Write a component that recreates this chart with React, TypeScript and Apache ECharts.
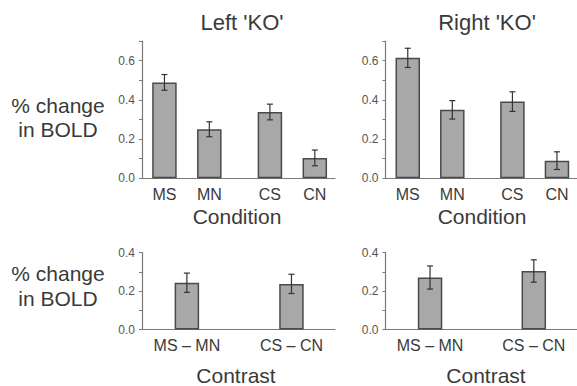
import React, { useEffect, useRef } from "react";
import * as echarts from "echarts";

const conditionCats = ["MS", "MN", "CS", "CN"];
const conditionPos = [0.5, 1.5, 2.85, 3.85];
const leftKO = [0.489, 0.25, 0.338, 0.104];
const leftKOErr = [0.04, 0.038, 0.04, 0.04];
const rightKO = [0.614, 0.349, 0.391, 0.09];
const rightKOErr = [0.049, 0.047, 0.05, 0.045];

const contrastCats = ["MS \u2013 MN", "CS \u2013 CN"];
const contrastPos = [1.0, 3.33];
const leftContrast = [0.243, 0.237];
const leftContrastErr = [0.05, 0.05];
const rightContrast = [0.27, 0.304];
const rightContrastErr = [0.06, 0.058];

const topYTicks = [0, 0.2, 0.4, 0.6];
const bottomYTicks = [0, 0.2, 0.4];

const FONT = "Liberation Sans, Arial, sans-serif";
const TEXT = "#3a3a3a";
const AXIS = "#7a7a7a";

export default function App() {
  const ref = useRef<HTMLDivElement>(null);
  useEffect(() => {
    if (!ref.current) return;
    const chart = echarts.init(ref.current, null, { renderer: "svg" });

    const grids = [
      { left: 142, top: 41, width: 193, height: 137.3 },
      { left: 385.5, top: 41, width: 192, height: 137.3 },
      { left: 142, top: 252.5, width: 193, height: 77 },
      { left: 385.5, top: 252.5, width: 192, height: 77 },
    ];

    const panels = [
      { pos: conditionPos, cats: conditionCats, vals: leftKO, errs: leftKOErr, max: 0.7, ticks: topYTicks },
      { pos: conditionPos, cats: conditionCats, vals: rightKO, errs: rightKOErr, max: 0.7, ticks: topYTicks },
      { pos: contrastPos, cats: contrastCats, vals: leftContrast, errs: leftContrastErr, max: 0.4, ticks: bottomYTicks },
      { pos: contrastPos, cats: contrastCats, vals: rightContrast, errs: rightContrastErr, max: 0.4, ticks: bottomYTicks },
    ];

    const xAxis = panels.map((p, i) => ({
      type: "value",
      gridIndex: i,
      min: 0,
      max: 4.3,
      splitLine: { show: false },
      axisLine: { show: true, lineStyle: { color: AXIS, width: 1.2 } },
      axisTick: { show: false },
      axisLabel: {
        customValues: p.pos,
        margin: 8,
        fontSize: 16,
        fontFamily: FONT,
        color: TEXT,
        formatter: (v: number) => {
          const idx = p.pos.findIndex((q) => Math.abs(q - v) < 1e-6);
          return idx >= 0 ? p.cats[idx] : "";
        },
      },
    }));

    const yAxis = panels.map((p, i) => {
      const minor: number[] = [];
      for (let k = 0; k <= Math.round(p.max * 10); k++) minor.push(k / 10);
      return {
        type: "value",
        gridIndex: i,
        min: 0,
        max: p.max,
        splitLine: { show: false },
        axisLine: { show: true, lineStyle: { color: AXIS, width: 1.2 } },
        axisTick: {
          show: true,
          customValues: minor,
          length: 3,
          lineStyle: { color: AXIS, width: 1 },
        },
        axisLabel: {
          customValues: p.ticks,
          margin: 7,
          fontSize: 12,
          fontFamily: FONT,
          color: "#555",
          formatter: (v: number) => v.toFixed(1),
        },
      };
    });

    const series: any[] = [];
    panels.forEach((p, i) => {
      series.push({
        type: "bar",
        xAxisIndex: i,
        yAxisIndex: i,
        barWidth: 24.5,
        data: p.vals.map((v, k) => [p.pos[k], v]),
        itemStyle: { color: "#a8a8a8", borderColor: "#4a4a4a", borderWidth: 1.5 },
        silent: true,
      });
      series.push({
        type: "custom",
        xAxisIndex: i,
        yAxisIndex: i,
        data: p.vals.map((v, k) => [p.pos[k], v, p.errs[k]]),
        renderItem: (_params: any, api: any) => {
          const x = api.value(0);
          const y = api.value(1);
          const e = api.value(2);
          const top = api.coord([x, y + e]);
          const bot = api.coord([x, y - e]);
          const st = { stroke: "#333", lineWidth: 1.2 };
          return {
            type: "group",
            children: [
              { type: "line", shape: { x1: top[0], y1: top[1], x2: bot[0], y2: bot[1] }, style: st },
              { type: "line", shape: { x1: top[0] - 3, y1: top[1], x2: top[0] + 3, y2: top[1] }, style: st },
              { type: "line", shape: { x1: bot[0] - 3, y1: bot[1], x2: bot[0] + 3, y2: bot[1] }, style: st },
            ],
          };
        },
        silent: true,
        z: 5,
      });
    });

    const txt = (text: string, x: number, y: number, size: number) => ({
      type: "text",
      x,
      y,
      style: {
        text,
        fontSize: size,
        fontFamily: FONT,
        fill: TEXT,
        align: "center",
        verticalAlign: "middle",
      },
    });

    chart.setOption({
      animation: false,
      backgroundColor: "#fff",
      grid: grids.map((g) => ({ ...g, containLabel: false })),
      xAxis,
      yAxis,
      series,
      graphic: [
        txt("Left 'KO'", 242, 22, 22),
        txt("Right 'KO'", 487, 22, 22),
        txt("% change", 58, 105, 21),
        txt("in BOLD", 58, 129, 21),
        txt("% change", 58, 273, 21),
        txt("in BOLD", 58, 298, 21),
        txt("Condition", 237, 216, 21),
        txt("Condition", 482, 216, 21),
        txt("Contrast", 236, 375, 21),
        txt("Contrast", 486, 375, 21),
      ],
    });
    return () => chart.dispose();
  }, []);
  return (
    <div
      ref={ref}
      style={{ position: "fixed", left: 0, top: 0, width: 577, height: 386 }}
    />
  );
}
